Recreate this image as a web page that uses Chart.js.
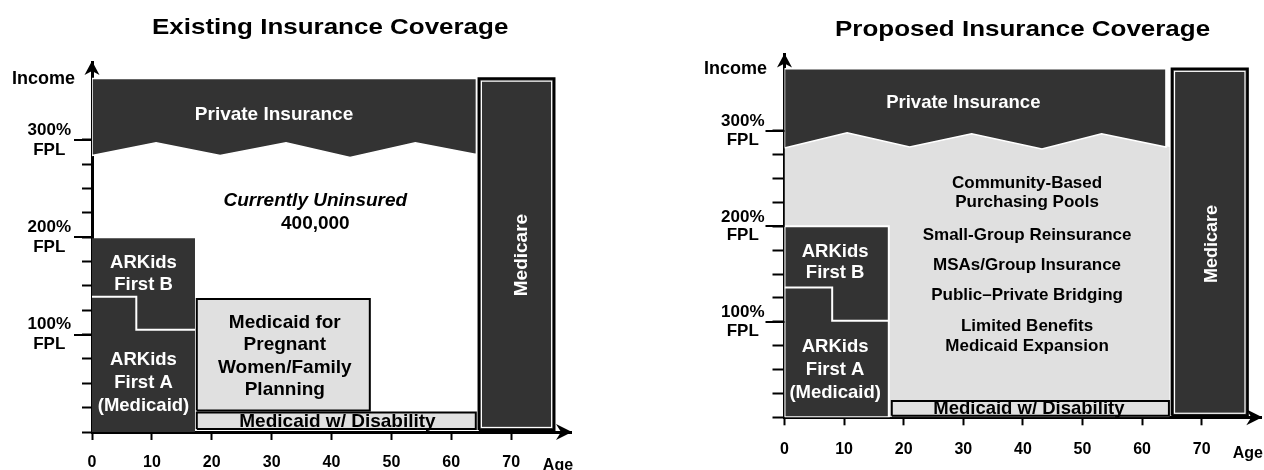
<!DOCTYPE html>
<html>
<head>
<meta charset="utf-8">
<title>Insurance Coverage</title>
<script src="https://cdn.jsdelivr.net/npm/chart.js@4.4.1/dist/chart.umd.min.js"></script>
<style>
  html, body { margin: 0; padding: 0; background: #fff; }
  body { width: 1264px; height: 470px; position: relative; overflow: hidden;
         font-family: "Liberation Sans", Arial, Helvetica, sans-serif; }
  .panel { position: absolute; top: 0; width: 632px; height: 470px; }
  .panel canvas { position: absolute; left: 0; top: 0; }
  .title { position: absolute; line-height: 28px; font-size: 22px; font-weight: bold;
           color: #000; white-space: nowrap; z-index: 2;
           transform: scaleX(1.18); transform-origin: 0 50%; }
</style>
</head>
<body>
<div class="title" style="left:152px; top:12.5px">Existing Insurance Coverage</div>
<div class="title" style="left:835px; top:14.5px">Proposed Insurance Coverage</div>
<div class="panel" style="left:0"><canvas id="existing" width="632" height="470"></canvas></div>
<div class="panel" style="left:632px"><canvas id="proposed" width="632" height="470"></canvas></div>

<script>
// ---- Axis ticks -------------------------------------------------------
const AGE_TICKS = [0, 10, 20, 30, 40, 50, 60, 70];
const FPL_TICKS = [0, 25, 50, 75, 100, 125, 150, 175, 200, 225, 250, 275, 300];
const FPL_LABELS = { 100: ['100%', 'FPL'], 200: ['200%', 'FPL'], 300: ['300%', 'FPL'] };

// ---- Existing coverage (age in years, income in % of FPL) -------------
// rectangles are [ageFrom, ageTo, fplFrom, fplTo]
const existingPrivateTop = 363;
const existingPrivateEdge = [[0, 284], [10.7, 297], [21.4, 284], [32.4, 297], [43.1, 282], [54, 297], [64.2, 285]];
const existingKids = [0, 17.2, 0, 199];
const existingKidsSplit = [[0, 139], [7.4, 139], [7.4, 105], [17.2, 105]];
const existingPregnancy = [17.5, 46.4, 22, 136.5];
const existingDisability = [17.5, 64.1, 3, 20];
const existingMedicare = [64.6, 77.2, 2, 363];

// ---- Proposed coverage --------------------------------------------------
const proposedPrivateTop = 365;
const proposedPrivateEdge = [[0, 282], [10.5, 298], [21, 283], [31.4, 297], [43.2, 281], [53.2, 297], [64, 283]];
const proposedPoolsEdge = [[0, 282], [10.5, 298], [21, 283], [31.4, 297], [43.2, 281], [53.2, 297], [64.6, 283]];
const proposedKids = [0, 17.5, 0, 200];
const proposedKidsSplit = [[0, 136], [8, 136], [8, 101], [17.5, 101]];
const proposedDisability = [18, 64.5, 1.5, 17];
const proposedMedicare = [65, 77.7, 1.5, 365];

// ---- Styling ------------------------------------------------------------
const FONT = '"Liberation Sans", Arial, Helvetica, sans-serif';
const DARK = '#333333';
const LIGHT = '#e0e0e0';
const NONE = 'rgba(0,0,0,0)';
Chart.defaults.font.family = FONT;

// ---- Geometry helpers -------------------------------------------------
const pts = list => list.map(([x, y]) => ({ x, y }));
const rect = ([a0, a1, f0, f1]) => pts([[a0, f0], [a1, f0], [a1, f1], [a0, f1], [a0, f0]]);
// band between a wavy lower edge and a flat top
const band = (edge, top) => {
  const first = edge[0], last = edge[edge.length - 1];
  return [...pts(edge), { x: last[0], y: top }, { x: first[0], y: top }, { x: first[0], y: first[1] }];
};
// area between the age axis and a wavy upper edge
const under = edge => {
  const first = edge[0], last = edge[edge.length - 1];
  return [{ x: first[0], y: 0 }, { x: last[0], y: 0 }, ...pts(edge.slice().reverse()), { x: first[0], y: 0 }];
};

function shape(label, data, fill, border, width, order, extra) {
  return Object.assign({
    label, data, order,
    backgroundColor: fill, borderColor: border, borderWidth: width,
    fill: 'shape', pointRadius: 0, pointHoverRadius: 0, tension: 0,
    borderJoinStyle: 'miter'
  }, extra || {});
}
function path(label, data, color, width, order) {
  return { label, data, order, borderColor: color, borderWidth: width, fill: false,
           pointRadius: 0, pointHoverRadius: 0, tension: 0, borderJoinStyle: 'miter' };
}

// ---- Decorations: arrows, long FPL ticks, inner outlines, region text ----
const decorations = {
  id: 'decorations',
  afterDatasetsDraw(chart) {
    const ctx = chart.ctx;
    chart.data.datasets.forEach((ds, i) => {
      if (!ds.innerOutline) return;
      const els = chart.getDatasetMeta(i).data;
      const xs = els.map(e => e.x), ys = els.map(e => e.y);
      const l = Math.min(...xs), r = Math.max(...xs), t = Math.min(...ys), b = Math.max(...ys);
      ctx.save();
      ctx.strokeStyle = '#fff';
      ctx.lineWidth = 1.2;
      ctx.strokeRect(l + 2.6, t + 2.6, r - l - 5.2, b - t - 5.2);
      ctx.restore();
    });
  },
  afterDraw(chart, args, opts) {
    const { ctx, chartArea: area, scales: { x, y } } = chart;
    const ax = x.getPixelForValue(0), ay = y.getPixelForValue(0);
    ctx.save();
    ctx.fillStyle = '#000';
    ctx.strokeStyle = '#000';
    // long ticks at each labelled FPL level
    ctx.lineWidth = 2;
    ctx.beginPath();
    Object.keys(FPL_LABELS).forEach(v => {
      const py = Math.round(y.getPixelForValue(+v));
      ctx.moveTo(ax - opts.majorTick, py);
      ctx.lineTo(ax, py);
    });
    ctx.stroke();
    // arrow heads
    ctx.beginPath();
    ctx.moveTo(ax, area.top - 1);
    ctx.lineTo(ax - 7.5, area.top + 13);
    ctx.lineTo(ax, area.top + 9);
    ctx.lineTo(ax + 7.5, area.top + 13);
    ctx.closePath();
    ctx.fill();
    ctx.beginPath();
    ctx.moveTo(area.right + 1, ay);
    ctx.lineTo(area.right - 15, ay - 8);
    ctx.lineTo(area.right - 10, ay);
    ctx.lineTo(area.right - 15, ay + 8);
    ctx.closePath();
    ctx.fill();
    // text
    opts.labels.forEach(lb => {
      const px = x.getPixelForValue(lb.at[0]) + (lb.dx || 0);
      const py = y.getPixelForValue(lb.at[1]) + (lb.dy || 0);
      const size = lb.size || 18;
      const lh = lb.lh || size * 1.2;
      ctx.save();
      ctx.fillStyle = lb.color || '#000';
      ctx.font = (lb.italic ? 'italic ' : '') + 'bold ' + size + 'px ' + FONT;
      ctx.textAlign = lb.align || 'center';
      ctx.textBaseline = 'middle';
      ctx.translate(px, py);
      if (lb.rotate) ctx.rotate(-Math.PI / 2);
      const n = lb.text.length;
      lb.text.forEach((line, k) => ctx.fillText(line, 0, (k - (n - 1) / 2) * lh));
      ctx.restore();
    });
    ctx.restore();
  }
};

function makeChart(id, cfg) {
  return new Chart(document.getElementById(id), {
    type: 'line',
    data: { datasets: cfg.datasets },
    plugins: [decorations],
    options: {
      responsive: false,
      devicePixelRatio: 1,
      animation: false,
      events: [],
      layout: { padding: cfg.padding },
      plugins: {
        legend: { display: false },
        tooltip: { enabled: false },
        decorations: { labels: cfg.labels, majorTick: cfg.majorTick }
      },
      scales: {
        x: {
          type: 'linear', min: 0, max: 80, z: 1,
          afterBuildTicks: s => { s.ticks = AGE_TICKS.map(v => ({ value: v })); },
          afterFit: s => { s.height = cfg.xHeight; },
          border: { display: true, color: '#000', width: 3 },
          grid: { drawOnChartArea: false, drawTicks: true, tickLength: 8, tickWidth: 2, color: '#000' },
          ticks: { autoSkip: false, maxRotation: 0, color: '#000', padding: cfg.xPad,
                   font: { size: 16, weight: 'bold' } }
        },
        y: {
          type: 'linear', min: 0, max: 380, z: 1,
          afterBuildTicks: s => { s.ticks = FPL_TICKS.map(v => ({ value: v })); },
          afterFit: s => { s.width = 92; },
          border: { display: true, color: '#000', width: 3 },
          grid: { drawOnChartArea: false, drawTicks: true, tickLength: cfg.minorTick, tickWidth: 2, color: '#000' },
          ticks: { autoSkip: false, crossAlign: 'center', color: '#000', padding: cfg.yPad,
                   font: { size: 17, weight: 'bold', lineHeight: cfg.yLine },
                   callback: v => FPL_LABELS[v] || '' }
        }
      }
    }
  });
}

// ---- Existing coverage --------------------------------------------------
makeChart('existing', {
  padding: { left: 0, right: 61, top: 62, bottom: 0 },
  xHeight: 38, xPad: 13, minorTick: 10, majorTick: 18, yPad: 11, yLine: 1.18,
  datasets: [
    shape('Private Insurance', band(existingPrivateEdge, existingPrivateTop), DARK, '#fff', 1.5, 5),
    shape('ARKids', rect(existingKids), DARK, NONE, 1, 4),
    path('ARKids split', pts(existingKidsSplit), '#fff', 2, 3),
    shape('Medicaid for Pregnant Women/Family Planning', rect(existingPregnancy), LIGHT, '#000', 2, 3),
    shape('Medicaid w/ Disability', rect(existingDisability), LIGHT, '#000', 2, 3),
    shape('Medicare', rect(existingMedicare), DARK, '#000', 2.5, 3, { innerOutline: true })
  ],
  labels: [
    { text: ['Income'], at: [0, 362.4], dx: -17, align: 'right', size: 18 },
    { text: ['Age'], at: [75.3, 0], dy: 34, align: 'left', size: 16 },
    { text: ['Private Insurance'], at: [30.4, 325.5], color: '#fff', size: 19 },
    { text: ['Currently Uninsured'], at: [37.3, 237], size: 19, italic: true },
    { text: ['400,000'], at: [37.3, 213.5], size: 19 },
    { text: ['ARKids', 'First B'], at: [8.6, 162.5], color: '#fff', size: 18.5, lh: 21.3 },
    { text: ['ARKids', 'First A', '(Medicaid)'], at: [8.6, 50.3], color: '#fff', size: 18.5, lh: 23 },
    { text: ['Medicaid for', 'Pregnant', 'Women/Family', 'Planning'], at: [32.2, 77.6], size: 19, lh: 22.4 },
    { text: ['Medicaid w/ Disability'], at: [41, 10.5], size: 19 },
    { text: ['Medicare'], at: [71.8, 181.7], color: '#fff', size: 19, rotate: true }
  ]
});

// ---- Proposed coverage --------------------------------------------------
makeChart('proposed', {
  padding: { left: 60.5, right: 2.7, top: 54.4, bottom: 0 },
  xHeight: 52.7, xPad: 15, minorTick: 12, majorTick: 19, yPad: 8, yLine: 1.08,
  datasets: [
    shape('Proposed pools', under(proposedPoolsEdge), LIGHT, NONE, 1, 6),
    shape('Private Insurance', band(proposedPrivateEdge, proposedPrivateTop), DARK, '#fff', 1.5, 5),
    shape('ARKids', rect(proposedKids), DARK, '#fff', 2, 4),
    path('ARKids split', pts(proposedKidsSplit), '#fff', 2, 3),
    shape('Medicaid w/ Disability', rect(proposedDisability), LIGHT, '#000', 2, 3),
    shape('Medicare', rect(proposedMedicare), DARK, '#000', 2.5, 3, { innerOutline: true })
  ],
  labels: [
    { text: ['Income'], at: [0, 364.7], dx: -17.5, align: 'right', size: 18 },
    { text: ['Age'], at: [75.2, 0], dy: 36, align: 'left', size: 16 },
    { text: ['Private Insurance'], at: [30, 329], color: '#fff', size: 18.5 },
    { text: ['Community-Based', 'Purchasing Pools'], at: [40.7, 235], size: 17, lh: 19.7 },
    { text: ['Small-Group Reinsurance'], at: [40.7, 190.9], size: 17 },
    { text: ['MSAs/Group Insurance'], at: [40.7, 159.5], size: 17 },
    { text: ['Public\u2013Private Bridging'], at: [40.7, 128.1], size: 17 },
    { text: ['Limited Benefits', 'Medicaid Expansion'], at: [40.7, 84.4], size: 17, lh: 20 },
    { text: ['ARKids', 'First B'], at: [8.5, 162.3], color: '#fff', size: 18.5, lh: 21.3 },
    { text: ['ARKids', 'First A', '(Medicaid)'], at: [8.5, 49.5], color: '#fff', size: 18.5, lh: 23.3 },
    { text: ['Medicaid w/ Disability'], at: [41, 9.2], size: 18.5 },
    { text: ['Medicare'], at: [71.7, 181.5], color: '#fff', size: 18, rotate: true }
  ]
});
</script>
</body>
</html>
